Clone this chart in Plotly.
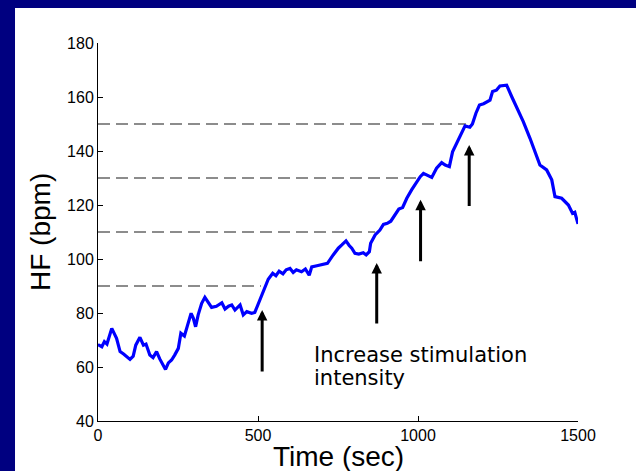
import plotly.graph_objects as go

# ---- data ----
time_sec = [0, 3, 12, 20, 28, 43, 58, 69, 80, 90, 100, 110, 118, 131, 142, 150, 162, 172, 183, 193,
            204, 211, 220, 230, 240, 251, 259, 270, 280, 291, 298, 305, 313, 324, 334, 344, 355, 370,
            387, 397, 408, 418, 428, 444, 454, 465, 480, 490, 501, 517, 532, 546, 556, 566, 578, 588,
            600, 610, 620, 636, 648, 660, 668, 684, 699, 717, 735, 751, 762, 775, 785, 793, 803, 815,
            829, 838, 848, 852, 866, 881, 892, 904, 915, 928, 940, 952, 965, 980, 996, 1007, 1017,
            1030, 1043, 1058, 1074, 1085, 1098, 1108, 1123, 1136, 1147, 1162, 1170, 1181, 1192, 1205,
            1217, 1225, 1233, 1245, 1256, 1277, 1293, 1308, 1329, 1350, 1366, 1381, 1402, 1418, 1428,
            1449, 1470, 1483, 1490, 1500]
hr_bpm = [68, 68.1, 67.5, 69.4, 68.5, 74.3, 70.6, 65.7, 64.8, 63.8, 62.8, 64, 68.1, 71, 68.1, 68.5,
          64.4, 63.5, 65.7, 63, 60.7, 59.1, 61.5, 62.6, 64.5, 66.9, 72.5, 71.5, 75.5, 79.9, 78, 74.9,
          79.3, 83.6, 85.8, 84.2, 82.1, 82.5, 83.8, 81.5, 82.5, 83, 81.1, 83, 79.3, 80.5, 79.9, 80.2,
          83.6, 88, 92.5, 94.7, 93.8, 95.5, 94.5, 96, 96.5, 95, 96, 95.3, 96.3, 94, 97.1, 97.5, 97.8,
          98.4, 101.5, 104, 105.2, 106.7, 105, 104, 102.1, 101.8, 102.3, 101.5, 102.7, 105.8, 108.9,
          110.7, 112.8, 113.2, 114, 116.3, 118.5, 119.1, 122.5, 125.6, 128.6, 130.5, 131.7, 130.8,
          130.2, 133.6, 135.7, 134.8, 134.2, 139.7, 143.4, 147.1, 149.3, 148.8, 150, 154, 157, 157.5,
          158.3, 158.8, 162, 162.5, 164.1, 164.4, 160.1, 156.4, 150.9, 144.7, 139.7, 134.8, 133,
          129.3, 123.1, 122.5, 120, 116.9, 117.3, 113]

dash_levels = [90, 110, 130, 150]
dash_ends = [509, 866, 1000, 1150]

arrow_x = [513, 871, 1008, 1160]
arrow_tail_y = [57.8, 75.6, 98.6, 119.1]
arrow_tip_y = [81.1, 98.5, 121.9, 142.2]

x_ticks = [0, 500, 1000, 1500]
y_ticks = [40, 60, 80, 100, 120, 140, 160, 180]

note_lines = ["Increase stimulation", "intensity"]
note_x = 668
note_y = [64.3, 55.9]

FONT = "Arial, Liberation Sans, Helvetica, sans-serif"

fig = go.Figure()

for lvl, xe in zip(dash_levels, dash_ends):
    fig.add_trace(go.Scatter(x=[0, xe], y=[lvl, lvl], mode="lines",
                             line=dict(color="#1a1a1a", width=1.2, dash="12px,6px"),
                             hoverinfo="skip", showlegend=False))

fig.add_trace(go.Scatter(x=time_sec, y=hr_bpm, mode="lines",
                         line=dict(color="#0000FF", width=3.2), showlegend=False))

annotations = []
for ax_, ty, hy in zip(arrow_x, arrow_tail_y, arrow_tip_y):
    annotations.append(dict(x=ax_, y=hy, ax=ax_, ay=ty, xref="x", yref="y", axref="x", ayref="y",
                            text="", showarrow=True, arrowhead=2, arrowsize=0.7, arrowwidth=3,
                            arrowcolor="black", standoff=0, startstandoff=0))

for txt, ny in zip(note_lines, note_y):
    annotations.append(dict(x=note_x, y=ny, xref="x", yref="y", text=txt, showarrow=False,
                            xanchor="left", yanchor="middle",
                            font=dict(family="DejaVu Sans, Verdana, sans-serif", size=21, color="black")))

annotations.append(dict(x=0.5, y=-0.095, xref="paper", yref="paper", text="Time (sec)",
                        showarrow=False, xanchor="center", yanchor="middle",
                        font=dict(family=FONT, size=28, color="black")))
annotations.append(dict(x=-0.1208, y=0.5, xref="paper", yref="paper", text="HF (bpm)",
                        showarrow=False, xanchor="center", yanchor="middle", textangle=-90,
                        font=dict(family=FONT, size=28, color="black")))

fig.update_layout(
    width=636, height=471,
    margin=dict(l=98, r=58, t=43, b=50, pad=0),
    paper_bgcolor="#000080",
    plot_bgcolor="white",
    font=dict(family=FONT, size=16, color="black"),
    annotations=annotations,
    shapes=[dict(type="rect", xref="paper", yref="paper", x0=-0.1729, x1=1.13, y0=-0.2, y1=1.0926,
                 fillcolor="white", line=dict(width=0), layer="below")],
    xaxis=dict(range=[0, 1500], tickvals=x_ticks, ticktext=[str(v) for v in x_ticks],
               showgrid=False, zeroline=False, showline=True, linecolor="black", linewidth=1,
               ticks="inside", ticklen=5, tickcolor="black", tickfont=dict(size=16)),
    yaxis=dict(range=[40, 180], tickvals=y_ticks, ticktext=[str(v) for v in y_ticks],
               showgrid=False, zeroline=False, showline=True, linecolor="black", linewidth=1,
               ticks="inside", ticklen=5, tickcolor="black", tickfont=dict(size=16)),
)

fig.write_html("out.html")
